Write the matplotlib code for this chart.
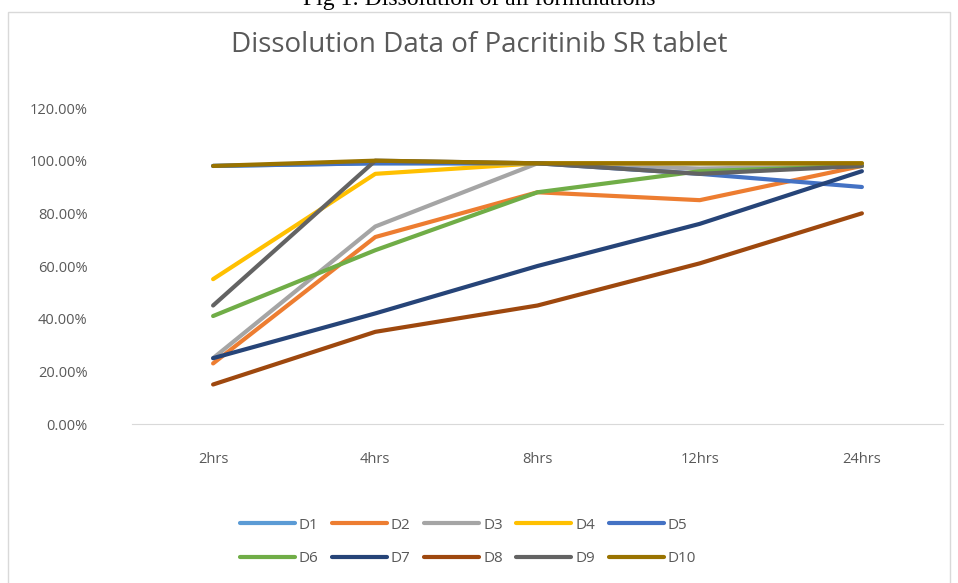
import matplotlib.pyplot as plt
from matplotlib.patches import Rectangle

# time points and % dissolved for each formulation
times = ['2hrs', '4hrs', '8hrs', '12hrs', '24hrs']
d1 = [98, 99, 99, 99, 99]
d2 = [23, 71, 88, 85, 98]
d3 = [25, 75, 99, 97, 98]
d4 = [55, 95, 99, 99, 99]
d5 = [98, 99, 99, 95, 90]
d6 = [41, 66, 88, 96, 98]
d7 = [25, 42, 60, 76, 96]
d8 = [15, 35, 45, 61, 80]
d9 = [45, 100, 99, 95, 98]
d10 = [98, 100, 99, 99, 99]

names = ['D1', 'D2', 'D3', 'D4', 'D5', 'D6', 'D7', 'D8', 'D9', 'D10']
series = [d1, d2, d3, d4, d5, d6, d7, d8, d9, d10]
colors = ['#5B9BD5', '#ED7D31', '#A5A5A5', '#FFC000', '#4472C4',
          '#70AD47', '#264478', '#9E480E', '#636363', '#997300']

plt.rcParams['font.family'] = ['Open Sans', 'DejaVu Sans']

fig = plt.figure(figsize=(9.58, 5.83), dpi=100)
ax = fig.add_axes((132 / 958, 1 - 424 / 583, 811 / 958, 316 / 583))

x = list(range(len(times)))
handles = []
for name, vals, c in zip(names, series, colors):
    h, = ax.plot(x, [v / 100 for v in vals], color=c, lw=3, label=name,
                 solid_capstyle='round')
    handles.append(h)

ax.set_xlim(-0.5, len(times) - 0.5)
ax.set_ylim(0, 1.2)
ax.set_yticks([i * 0.2 for i in range(7)])
ax.set_yticklabels([f'{i * 20:.2f}%' for i in range(7)])
ax.set_xticks(x)
ax.set_xticklabels(times)
ax.tick_params(colors='#595959', labelsize=10.5, length=0)
ax.tick_params(axis='x', pad=20)
ax.tick_params(axis='y', pad=32)
for s in ['top', 'right', 'left']:
    ax.spines[s].set_visible(False)
ax.spines['bottom'].set_color('#D9D9D9')

fig.text(0.5, 1 - 45 / 583, 'Dissolution Data of Pacritinib SR tablet',
         color='#595959', fontsize=20, ha='center', va='center')

# legend filled row by row, like the original
order = [0, 5, 1, 6, 2, 7, 3, 8, 4, 9]
fig.legend([handles[i] for i in order], [names[i] for i in order],
           ncol=5, loc='upper left', bbox_to_anchor=(232 / 958, 1 - 510 / 583),
           frameon=False, fontsize=11, labelcolor='#595959', borderpad=0,
           handlelength=3.6, handletextpad=0.25, columnspacing=0.9,
           labelspacing=1.2)

# chart border and outer caption
fig.patches.append(Rectangle((8 / 958, -0.01), 942 / 958, 1 - 12 / 583 + 0.01,
                             transform=fig.transFigure, fill=False,
                             edgecolor='#D9D9D9', lw=1))
fig.text(0.5, 1.0, 'Fig 1: Dissolution of all formulations', ha='center',
         va='center', fontsize=17, family='Liberation Serif')

fig.savefig('out.png', dpi=100)
